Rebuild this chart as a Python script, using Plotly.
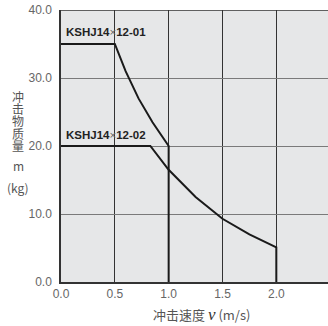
import plotly.graph_objects as go

# Data
s1_v = [0.0, 0.5, 0.6, 0.72, 0.85, 1.0, 1.0]
s1_m = [35.0, 35.0, 31.0, 27.0, 23.5, 20.0, 0.0]
s2_v = [0.0, 0.83, 1.0, 1.25, 1.5, 1.75, 2.0, 2.0]
s2_m = [20.0, 20.0, 16.5, 12.5, 9.3, 7.0, 5.1, 0.0]
labels = ["KSHJ14×12-01", "KSHJ14×12-02"]
label_y = [36.7, 21.6]
x_ticks = [0.0, 0.5, 1.0, 1.5, 2.0]
x_tick_text = ["0.0", "0.5", "1.0", "1.5", "2.0"]
y_ticks = [0, 10, 20, 30, 40]
y_tick_text = ["0.0", "10.0", "20.0", "30.0", "40.0"]
y_title_chars = ["冲", "击", "物", "质", "量", "m", "(kg)"]
y_title_px = [96, 108, 120, 133, 145, 165, 187]
x_title = "冲击速度 <i><span style='font-family:Liberation Serif;font-size:17px;color:#333'>v</span></i> (m/s)"

W, H, L, T, B = 328, 326, 61, 10, 44
PW, PH = W - L, H - T - B

fig = go.Figure()
line_style = dict(color="#1a1a1a", width=2)
fig.add_trace(go.Scatter(x=s1_v, y=s1_m, mode="lines", line=line_style, showlegend=False, hoverinfo="skip"))
fig.add_trace(go.Scatter(x=s2_v, y=s2_m, mode="lines", line=line_style, showlegend=False, hoverinfo="skip"))

font = "Liberation Sans, Arial, sans-serif"
cjk = "Noto Sans CJK SC, " + font
for txt, yy in zip(labels, label_y):
    a, b = txt.split("×")
    fig.add_annotation(x=0.03, y=yy, xref="x", yref="y", xanchor="left", yanchor="middle",
                       text=f"<b>{a}</b><span style='color:#666'>×</span><b>{b}</b>",
                       showarrow=False, font=dict(family=font, size=11.5, color="#222"))

for ch, py in zip(y_title_chars, y_title_px):
    fig.add_annotation(x=(18 - L) / PW, y=(H - B - py) / PH, xref="paper", yref="paper",
                       xanchor="center", yanchor="middle", text=ch, showarrow=False,
                       font=dict(family=cjk, size=12, color="#555"))

fig.add_annotation(x=(201 - L) / PW, y=(H - B - 314) / PH, xref="paper", yref="paper",
                   xanchor="center", yanchor="middle", text=x_title, showarrow=False,
                   font=dict(family=cjk, size=13, color="#555"))

# top border line at 40
fig.add_shape(type="line", xref="paper", yref="y", x0=0, x1=1, y0=40, y1=40,
              line=dict(color="#333", width=1.5))

fig.update_layout(
    width=W, height=H,
    margin=dict(l=L, r=0, t=T, b=B),
    paper_bgcolor="white", plot_bgcolor="#e6e7e8",
    font=dict(family=font, size=12, color="#555"),
    xaxis=dict(range=[0, 2.48], tickvals=x_ticks, ticktext=x_tick_text, automargin=False,
               showgrid=True, gridcolor="#333", gridwidth=1, zeroline=False,
               showline=True, linecolor="#333", linewidth=1.5, ticks="",
               tickfont=dict(size=12, color="#666")),
    yaxis=dict(range=[0, 40], tickvals=y_ticks, ticktext=y_tick_text, automargin=False,
               showgrid=True, gridcolor="#7a7a7a", gridwidth=1, zeroline=False,
               showline=True, linecolor="#333", linewidth=1.5, ticks="", ticklabelstandoff=5,
               ticklabeloverflow="allow", tickfont=dict(size=12, color="#666")),
)

fig.write_html("out.html", config={"displayModeBar": False},
               post_script="document.body.style.margin='0';")
